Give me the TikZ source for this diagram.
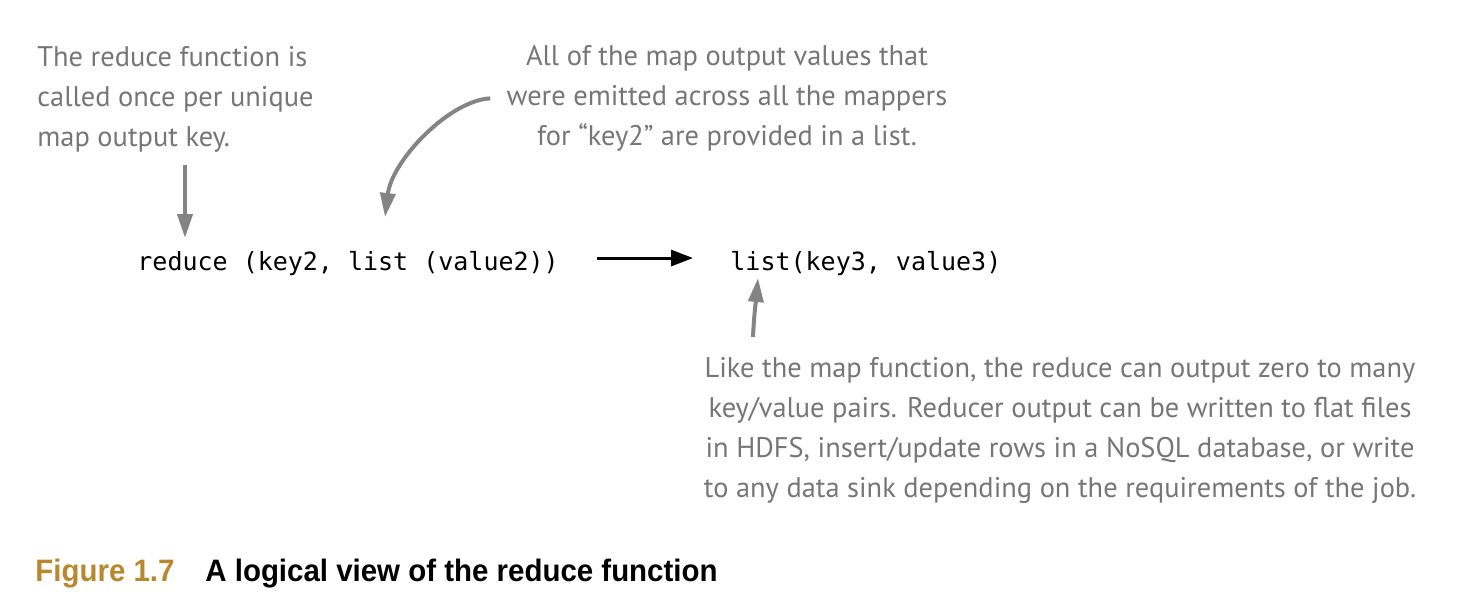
\documentclass[tikz,border=0pt]{standalone}
\usepackage{fontspec}
\setmainfont{PT Sans}
\setmonofont{DejaVu Sans Mono}
\newfontfamily\captionfont[FakeStretch=0.95]{Liberation Sans}
\usetikzlibrary{arrows.meta}

\definecolor{notegray}{RGB}{118,118,118}
\definecolor{arrowgray}{RGB}{132,132,132}
\definecolor{figgold}{RGB}{185,135,45}

\tikzset{
  note/.style={inner sep=0pt, text=notegray, font=\fontsize{14.2}{20}\selectfont},
  code/.style={inner sep=0pt, font=\ttfamily\fontsize{12.5}{15}\selectfont},
  note arrow/.style={draw=arrowgray, line width=2pt, -{Triangle[length=12pt,width=7.5pt]}},
  flow arrow/.style={draw=black, line width=1.5pt, -{Triangle[length=11pt,width=8pt]}}
}

\begin{document}
\begin{tikzpicture}[x=0.5pt,y=0.5pt,yscale=-1,xscale=1]
\useasboundingbox (0,0) rectangle (1458,616);

% Code Nodes
\draw (137,270) node (reduceCall) [code, anchor=base west] {reduce (key2, list (value2))};
\draw (730,270) node (outputList) [code, anchor=base west] {list(key3, value3)};

% Text Node
\draw (37,46) node (keyNote) [note, anchor=north west, align=left] {The reduce function is\\called once per unique\\map output key.};
% Text Node
\draw (727,45) node (valuesNote) [note, anchor=north, align=center] {All of the map output values that\\were emitted across all the mappers\\for “key2” are provided in a list.};
% Text Node
\draw (1060,357) node (outputNote) [note, anchor=north, align=center] {Like the map function, the reduce can output zero to many\\key/value pairs. Reducer output can be written to flat files\\in HDFS, insert/update rows in a NoSQL database, or write\\to any data sink depending on the requirements of the job.};

% Arrow ends
\coordinate (keyTip) at (185,238);
\coordinate (valuesTip) at (385,217);
\coordinate (outputTip) at (758,278);
\coordinate (outputFoot) at (753,337);

%Straight Lines
\draw [note arrow] ([yshift=6pt]keyNote.south -| keyTip) -- (keyTip);
%Curve Lines
\draw [note arrow] ([xshift=-8pt]valuesNote.west) .. controls (450,100) and (392,160) .. (valuesTip);
%Curve Lines
\draw [note arrow] (outputFoot) .. controls (754,315) and (756,300) .. (outputTip);
%Straight Lines
\draw [flow arrow] ([xshift=19pt,yshift=-2.5pt]reduceCall.east) -- ([xshift=-18.5pt,yshift=-2.5pt]outputList.west);

% Caption
\draw (35,581) node (figLabel) [inner sep=0pt, anchor=base west, text=figgold, font=\captionfont\bfseries\fontsize{15.5}{18}\selectfont] {Figure 1.7};
\draw (205,581) node (figTitle) [inner sep=0pt, anchor=base west, font=\captionfont\bfseries\fontsize{15.5}{18}\selectfont] {A logical view of the reduce function};

\end{tikzpicture}
\end{document}
